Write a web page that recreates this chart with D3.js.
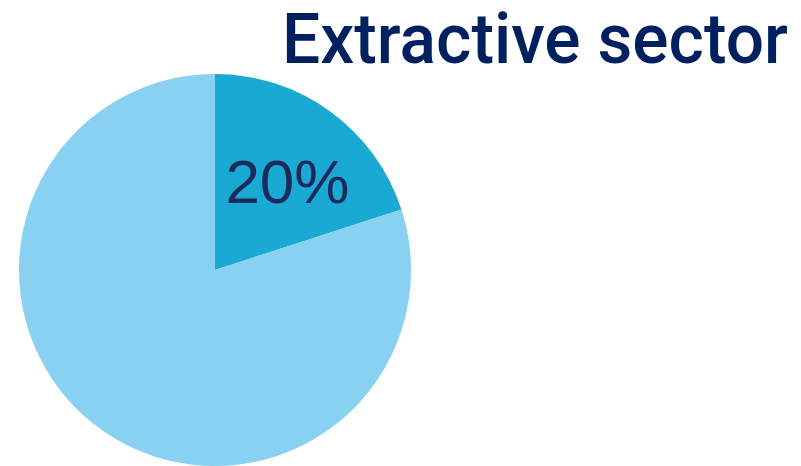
<!DOCTYPE html>
<html>
<head>
<meta charset="utf-8">
<script src="https://cdn.jsdelivr.net/npm/d3@7"></script>
<style>
  body { margin: 0; background: #fff; }
</style>
</head>
<body>
<div id="chart"></div>
<script>
const categories = ["Extractive sector", "Other"];
const values = [20, 80];
const labels = ["20%", ""];
const colors = ["#19a9d3", "#88d1f1"];

const width = 801, height = 466;
const cx = 215, cy = 270, radius = 196;

const svg = d3.select("#chart").append("svg")
  .attr("width", width).attr("height", height);

const g = svg.append("g").attr("transform", "translate(" + cx + "," + cy + ")");

const pie = d3.pie().sort(null).value(d => d.value);
const arc = d3.arc().innerRadius(0).outerRadius(radius);

const data = categories.map((c, i) => ({ name: c, value: values[i], label: labels[i], color: colors[i] }));

g.selectAll("path").data(pie(data)).enter().append("path")
  .attr("d", arc)
  .attr("fill", d => d.data.color);

// label inside the small slice
const labelArc = d3.arc().innerRadius(radius * 0.62).outerRadius(radius * 0.62);
g.selectAll("text.lbl").data(pie(data).filter(d => d.data.label)).enter().append("text")
  .attr("class", "lbl")
  .attr("transform", d => {
    const c = labelArc.centroid(d);
    return "translate(" + (c[0] + 1) + "," + c[1] + ")";
  })
  .attr("text-anchor", "middle")
  .attr("dy", "0.5em")
  .style("font-family", "'Liberation Sans', Arial, sans-serif")
  .style("font-size", "62px")
  .style("fill", "#1b2a5c")
  .text(d => d.data.label);

svg.append("text")
  .attr("x", 282).attr("y", 63)
  .attr("textLength", 506)
  .attr("lengthAdjust", "spacingAndGlyphs")
  .style("font-family", "Roboto, 'Liberation Sans', sans-serif")
  .style("font-weight", 500)
  .style("font-size", "71px")
  .style("fill", "#002060")
  .text(categories[0]);
</script>
</body>
</html>
